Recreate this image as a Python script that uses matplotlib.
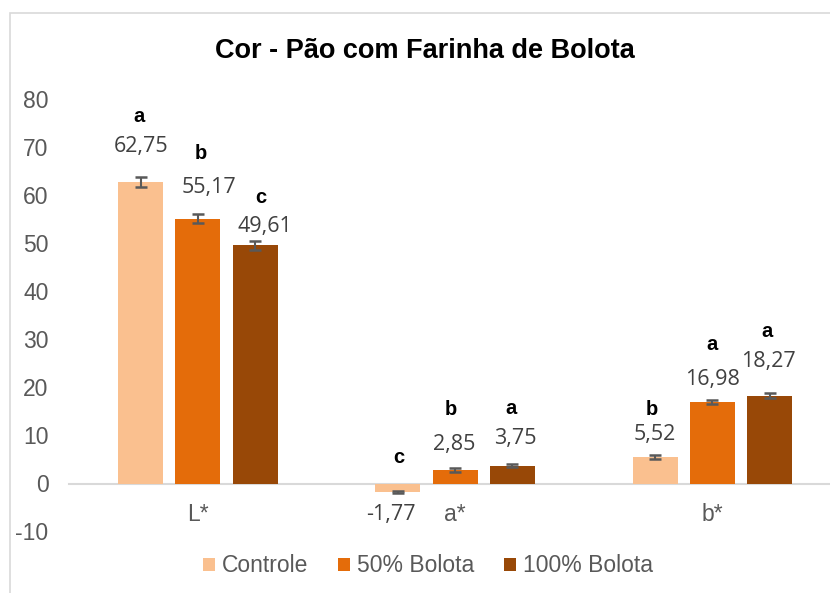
import matplotlib
matplotlib.use("Agg")
import matplotlib.pyplot as plt
from matplotlib.patches import Patch, Rectangle
import numpy as np

# ---- data ----
categories = ["L*", "a*", "b*"]
series_names = ["Controle", "50% Bolota", "100% Bolota"]
controle = [62.75, -1.77, 5.52]
bolota50 = [55.17, 2.85, 16.98]
bolota100 = [49.61, 3.75, 18.27]
err_controle = [1.05, 0.30, 0.40]
err_bolota50 = [1.00, 0.35, 0.45]
err_bolota100 = [1.00, 0.30, 0.50]
letters_controle = ["a", "c", "b"]
letters_bolota50 = ["b", "b", "a"]
letters_bolota100 = ["c", "a", "a"]
value_labels_controle = ["62,75", "-1,77", "5,52"]
value_labels_bolota50 = ["55,17", "2,85", "16,98"]
value_labels_bolota100 = ["49,61", "3,75", "18,27"]
y_ticks = [-10, 0, 10, 20, 30, 40, 50, 60, 70, 80]

# ---- layout / style (pixel offsets of manually placed labels) ----
colors = ["#FAC08F", "#E46C0A", "#984807"]
value_offsets = [  # (dx, dy) in pixels from bar end, per series per category
    [(0, 30.6), (-6.7, -28), (0, 17)],
    [(11.5, 25.4), (-1, 19.8), (0, 17)],
    [(10, 13.7), (2.7, 21.5), (-1, 29)],
]
letter_offsets = [
    [(-2, 60.8), (1, 28.7), (-3, 42)],
    [(3, 59.4), (-4, 54.8), (0, 52)],
    [(6, 42.1), (-1, 51.5), (-3, 59)],
]

values = [controle, bolota50, bolota100]
errors = [err_controle, err_bolota50, err_bolota100]
letters = [letters_controle, letters_bolota50, letters_bolota100]
vlabels = [value_labels_controle, value_labels_bolota50, value_labels_bolota100]

W, H = 830, 593
fig = plt.figure(figsize=(W / 100, H / 100), dpi=100)
ax = fig.add_axes([69.3 / W, (H - 531.5) / H, (841 - 69.3) / W, 432 / H])

x = np.arange(len(categories))
step = 0.2227
width = 0.175
for j in range(3):
    xs = x + (j - 1) * step
    ax.bar(xs, values[j], width=width, color=colors[j], label=series_names[j], zorder=2)
    ax.errorbar(xs, values[j], yerr=errors[j], fmt="none", ecolor="#595959",
                elinewidth=1.5, capsize=4.6, capthick=1.8, zorder=3)
    for i in range(len(categories)):
        dx, dy = value_offsets[j][i]
        ax.annotate(vlabels[j][i], xy=(xs[i], values[j][i]), xytext=(dx, dy),
                    textcoords="offset pixels", ha="center", va="baseline",
                    fontsize=15.5, family="Open Sans", color="#404040")
        ldx, ldy = letter_offsets[j][i]
        ax.annotate(letters[j][i], xy=(xs[i], values[j][i]), xytext=(ldx, ldy),
                    textcoords="offset pixels", ha="center", va="baseline",
                    fontsize=14.5, family="Liberation Sans", fontweight="bold", color="black")

ax.set_xlim(-0.5, 2.5)
ax.set_ylim(-10, 80)
ax.set_yticks(y_ticks)
ax.set_yticklabels([str(t) for t in y_ticks])
ax.set_xticks(x)
ax.set_xticklabels(categories)
for s in ["left", "right", "top"]:
    ax.spines[s].set_visible(False)
ax.spines["bottom"].set_position(("data", 0))
ax.spines["bottom"].set_color("#D9D9D9")
ax.spines["bottom"].set_linewidth(1.5)
ax.spines["bottom"].set_zorder(1)
ax.tick_params(axis="y", length=0, pad=15, labelsize=16.5, labelcolor="#595959")
ax.tick_params(axis="x", length=0, pad=14, labelsize=16.5, labelcolor="#595959")
for lab in ax.get_xticklabels() + ax.get_yticklabels():
    lab.set_family("Liberation Sans")
ax.patch.set_alpha(0)

fig.text(425 / W, 1 - 58.3 / H, "Cor - Pão com Farinha de Bolota", ha="center", va="baseline",
         fontsize=19.5, fontweight="bold", family="Liberation Sans", color="black")

handles = [Patch(facecolor=c, edgecolor="none") for c in colors]
leg = fig.legend(handles, series_names, loc="center", bbox_to_anchor=(428 / W, 1 - 566 / H),
                 ncol=3, frameon=False, handlelength=0.52, handleheight=0.52,
                 handletextpad=0.3, columnspacing=1.3,
                 prop={"family": "Liberation Sans", "size": 16.5})
for t in leg.get_texts():
    t.set_color("#595959")

fig.patches.append(Rectangle((10 / W, -0.1), 1.2, 1 - 13 / H + 0.1, transform=fig.transFigure,
                             fill=False, edgecolor="#D9D9D9", linewidth=1.2))

fig.savefig("out.png", dpi=100)
